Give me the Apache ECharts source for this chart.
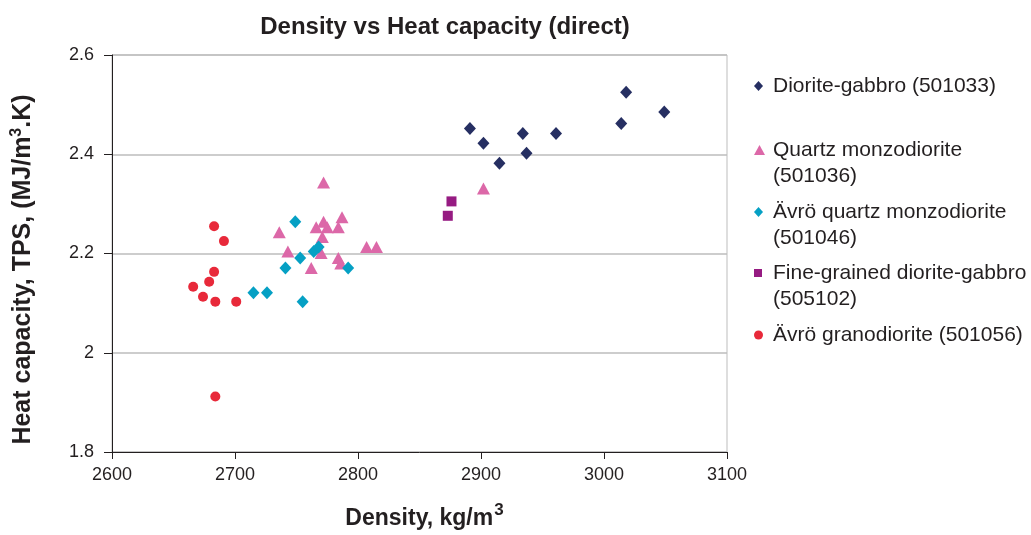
<!DOCTYPE html>
<html>
<head>
<meta charset="utf-8">
<script src="https://cdn.jsdelivr.net/npm/echarts@6/dist/echarts.min.js"></script>
<style>
  html, body { margin: 0; padding: 0; background: #fff; }
  #chart { width: 1031px; height: 535px; }
</style>
</head>
<body>
<div id="chart"></div>
<script>
// Density (kg/m3) and heat capacity (MJ/m3.K) per rock type
const seriesNames = [
  'Diorite-gabbro (501033)',
  'Quartz monzodiorite (501036)',
  'Ävrö quartz monzodiorite (501046)',
  'Fine-grained diorite-gabbro (505102)',
  'Ävrö granodiorite (501056)'
];
// legend text: first line next to the symbol, optional second line below
const legendFirstLines = [
  'Diorite-gabbro (501033)',
  'Quartz monzodiorite',
  'Ävrö quartz monzodiorite',
  'Fine-grained diorite-gabbro',
  'Ävrö granodiorite (501056)'
];
const legendSecondLines = ['', '(501036)', '(501046)', '(505102)', ''];

const dioriteGabbro = [
  [2891, 2.452], [2902, 2.422], [2915, 2.382], [2934, 2.442], [2937, 2.402],
  [2961, 2.442], [3014, 2.462], [3018, 2.525], [3049, 2.485]
];
const quartzMonzodiorite = [
  [2772, 2.343], [2736, 2.243], [2772, 2.264], [2766, 2.253], [2775, 2.253],
  [2787, 2.273], [2784, 2.253], [2771, 2.233], [2743, 2.204], [2770, 2.201],
  [2762, 2.171], [2784, 2.191], [2786, 2.180], [2807, 2.213], [2815, 2.213],
  [2902, 2.331]
];
const avroQuartzMonzodiorite = [
  [2749, 2.264], [2764, 2.204], [2768, 2.213], [2753, 2.191], [2741, 2.171],
  [2792, 2.171], [2715, 2.121], [2726, 2.121], [2755, 2.103]
];
const fineGrainedDioriteGabbro = [
  [2876, 2.305], [2873, 2.276]
];
const avroGranodiorite = [
  [2683, 2.255], [2691, 2.225], [2683, 2.163], [2679, 2.143], [2666, 2.133],
  [2674, 2.113], [2684, 2.103], [2701, 2.103], [2684, 1.912]
];

const xTicks = [2600, 2700, 2800, 2900, 3000, 3100];
const yTicks = [1.8, 2.0, 2.2, 2.4, 2.6];

const colors = ['#262f62', '#dc68a8', '#05a0c4', '#961b82', '#e8293a'];
const symbols = ['diamond', 'triangle', 'diamond', 'rect', 'circle'];
const symbolSizes = [[12, 13], [13, 12], [12, 13], [10, 10], [10, 10]];
const legendSymbolSizes = [[9, 10], [11, 10], [9, 10], [8, 8], [9, 9]];
const dataSets = [dioriteGabbro, quartzMonzodiorite, avroQuartzMonzodiorite,
  fineGrainedDioriteGabbro, avroGranodiorite];
const legendTops = [86, 150, 212, 273, 335];

const FONT = '"Liberation Sans", Arial, sans-serif';
const TEXT = '#231f20';
const LEGEND_LEFT = 754;
const LEGEND_TEXT_X = 773;
const LEGEND_FONT = 21;

const chart = echarts.init(document.getElementById('chart'), null, { renderer: 'canvas' });

const legends = seriesNames.map((name, i) => ({
  show: true,
  orient: 'vertical',
  left: LEGEND_LEFT,
  top: legendTops[i] - 13,
  padding: 0,
  data: [{ name: name, icon: symbols[i] }],
  itemWidth: legendSymbolSizes[i][0],
  itemHeight: legendSymbolSizes[i][1],
  itemGap: 0,
  selectedMode: false,
  formatter: () => legendFirstLines[i],
  textStyle: {
    fontFamily: FONT,
    fontSize: LEGEND_FONT,
    color: TEXT,
    lineHeight: 26,
    padding: [0, 0, 0, LEGEND_TEXT_X - LEGEND_LEFT - legendSymbolSizes[i][0] - 5]
  }
}));

const secondLineTexts = legendSecondLines
  .map((t, i) => ({ t, i }))
  .filter(o => o.t)
  .map(o => ({
    type: 'text',
    left: LEGEND_TEXT_X,
    top: legendTops[o.i] + 26 - 10,
    style: { text: o.t, font: LEGEND_FONT + 'px ' + FONT, fill: TEXT }
  }));

const option = {
  animation: false,
  backgroundColor: '#ffffff',
  title: {
    text: 'Density vs Heat capacity (direct)',
    left: 440,
    top: 10,
    textAlign: 'center',
    textStyle: { fontFamily: FONT, fontSize: 24, fontWeight: 'bold', color: TEXT }
  },
  legend: legends,
  graphic: secondLineTexts,
  grid: {
    left: 112, right: 1031 - 727, top: 55, bottom: 535 - 455,
    show: true, borderColor: '#bdbdbd', borderWidth: 1, backgroundColor: '#fff'
  },
  xAxis: {
    type: 'value',
    min: xTicks[0], max: xTicks[xTicks.length - 1], interval: 100,
    name: 'Density, kg/m{sup|3}',
    nameLocation: 'middle',
    nameGap: 50,
    nameTextStyle: {
      fontFamily: FONT, fontSize: 23, fontWeight: 'bold', color: TEXT,
      padding: [0, 0, 0, 10],
      rich: { sup: { fontFamily: FONT, fontSize: 17, fontWeight: 'bold', color: TEXT, verticalAlign: 'top', padding: [0, 0, 16, 1] } }
    },
    axisLine: { show: true, onZero: false, lineStyle: { color: TEXT, width: 1 } },
    axisTick: { show: true, inside: false, length: 7, lineStyle: { color: TEXT } },
    axisLabel: { fontFamily: FONT, fontSize: 18, color: TEXT, margin: 14, formatter: v => String(v) },
    splitLine: { show: false }
  },
  yAxis: {
    type: 'value',
    min: yTicks[0], max: yTicks[yTicks.length - 1], interval: 0.2,
    name: 'Heat capacity, TPS, (MJ/m{sup|3}.K)',
    nameLocation: 'middle',
    nameGap: 74,
    nameTextStyle: {
      fontFamily: FONT, fontSize: 25, fontWeight: 'bold', color: TEXT,
      padding: [0, 32, 0, 0],
      rich: { sup: { fontFamily: FONT, fontSize: 16, fontWeight: 'bold', color: TEXT, verticalAlign: 'top', padding: [0, 0, 13, 0] } }
    },
    axisLine: { show: true, onZero: false, lineStyle: { color: TEXT, width: 1 } },
    axisTick: { show: true, inside: false, length: 8, lineStyle: { color: TEXT } },
    axisLabel: {
      fontFamily: FONT, fontSize: 18, color: TEXT, margin: 18,
      formatter: v => (Math.abs(v - 2) < 1e-9 ? '2' : v.toFixed(1))
    },
    splitLine: { show: true, lineStyle: { color: '#bdbdbd', width: 1.5 } }
  },
  series: seriesNames.map((name, i) => ({
    name: name,
    type: 'scatter',
    data: dataSets[i],
    symbol: symbols[i],
    symbolSize: symbolSizes[i],
    itemStyle: { color: colors[i], opacity: 1 },
    emphasis: { disabled: true }
  }))
};

chart.setOption(option);
</script>
</body>
</html>
